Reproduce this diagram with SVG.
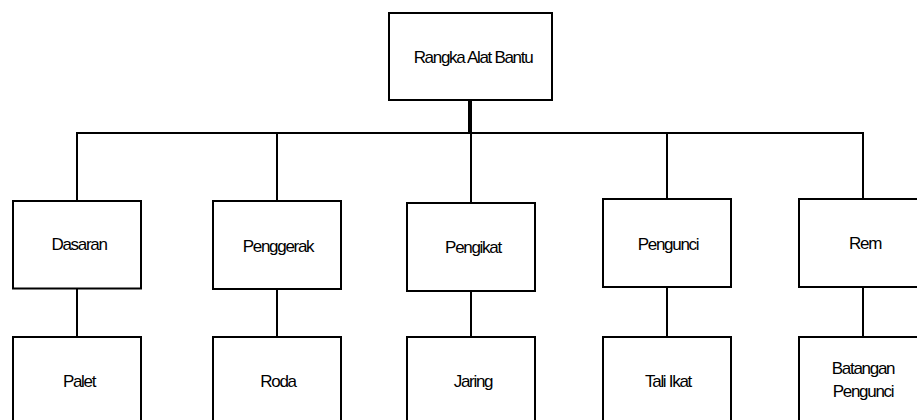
<svg xmlns="http://www.w3.org/2000/svg" width="917" height="420" viewBox="0 0 917 420">
<style>
rect{fill:#fff;stroke:#000;stroke-width:2}
line{stroke:#000;stroke-width:2}
text{font-family:"Liberation Sans",Arial,sans-serif;font-size:17px;letter-spacing:-1.3px;text-anchor:middle;fill:#000}
</style>
<rect x="0" y="0" width="917" height="420" style="stroke:none"/>
<g id="connectors">
<line x1="470" y1="100" x2="470" y2="133" style="stroke-width:4"/>
<line x1="76" y1="133" x2="864" y2="133"/>
<line x1="77" y1="133" x2="77" y2="201"/>
<line x1="277" y1="133" x2="277" y2="201"/>
<line x1="471" y1="133" x2="471" y2="203"/>
<line x1="667" y1="133" x2="667" y2="199"/>
<line x1="863" y1="132" x2="863" y2="199"/>
<line x1="77" y1="288" x2="77" y2="337"/>
<line x1="277" y1="289" x2="277" y2="337"/>
<line x1="471" y1="291" x2="471" y2="337"/>
<line x1="667" y1="287" x2="667" y2="337"/>
<line x1="863" y1="287" x2="863" y2="337"/>
</g>
<g id="root"><rect x="389" y="13" width="163" height="87"/><text x="473" y="62.5">Rangka Alat Bantu</text></g>
<g id="dasaran"><rect x="13" y="201" width="128" height="87.5"/><text x="79" y="250">Dasaran</text></g>
<g id="penggerak"><rect x="213" y="201" width="128" height="88"/><text x="278" y="251.5">Penggerak</text></g>
<g id="pengikat"><rect x="407" y="203" width="128" height="88"/><text x="473" y="252.5">Pengikat</text></g>
<g id="pengunci"><rect x="603" y="199" width="128" height="88"/><text x="668" y="249.5">Pengunci</text></g>
<g id="rem"><rect x="799" y="199" width="128" height="88"/><text x="865" y="248.5">Rem</text></g>
<g id="palet"><rect x="13" y="337" width="128" height="88"/><text x="79" y="386.5">Palet</text></g>
<g id="roda"><rect x="213" y="337" width="128" height="88"/><text x="278" y="386.5">Roda</text></g>
<g id="jaring"><rect x="407" y="337" width="128" height="88"/><text x="473" y="386.5">Jaring</text></g>
<g id="taliikat"><rect x="603" y="337" width="128" height="88"/><text x="668" y="386.5">Tali Ikat</text></g>
<g id="batangan"><rect x="799" y="337" width="128" height="88"/><text x="863" y="374">Batangan</text><text x="863" y="397">Pengunci</text></g>
</svg>
